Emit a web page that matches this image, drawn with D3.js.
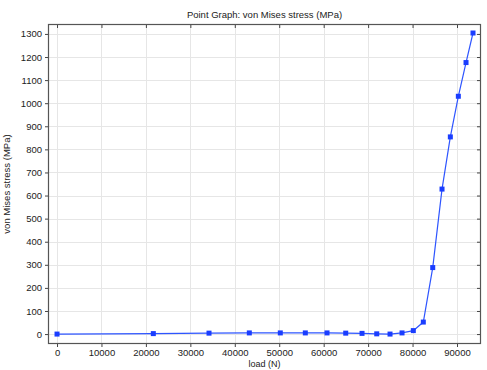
<!DOCTYPE html>
<html>
<head>
<meta charset="utf-8">
<script src="https://cdn.jsdelivr.net/npm/d3@7"></script>
<style>
  body { margin: 0; background: #fff; }
  svg { display: block; font-family: "Liberation Sans", Arial, sans-serif; }
</style>
</head>
<body>
<div id="chart"></div>
<script>
var loads = [0, 21670, 34200, 43270, 50240, 55870, 60750, 64960, 68630, 71940,
             74930, 77630, 80170, 82420, 84540, 86630, 88500, 90300, 92030, 93600];
var stress = [0, 2, 4, 5, 5, 5, 5, 4, 3, 1,
              0, 5, 15, 52, 288, 628, 854, 1030, 1176, 1304];
var xTicks = [0, 10000, 20000, 30000, 40000, 50000, 60000, 70000, 80000, 90000];
var yTicks = [0, 100, 200, 300, 400, 500, 600, 700, 800, 900, 1000, 1100, 1200, 1300];

var width = 487, height = 370;
var margin = {left: 48, right: 6, top: 24, bottom: 26};
var w = width - margin.left - margin.right,
    h = height - margin.top - margin.bottom;

var svg = d3.select('#chart').append('svg')
  .attr('width', width)
  .attr('height', height);

var x = d3.scaleLinear().domain([-2030, 95400]).range([0, w]);
var y = d3.scaleLinear().domain([-43, 1343]).range([h, 0]);

var g = svg.append('g')
  .attr('transform', 'translate(' + margin.left + ',' + margin.top + ')');

// grid
g.append('g').selectAll('line').data(xTicks).enter().append('line')
  .attr('x1', function(d) { return Math.round(x(d)) + 0.5; })
  .attr('x2', function(d) { return Math.round(x(d)) + 0.5; })
  .attr('y1', 0).attr('y2', h)
  .attr('stroke', '#e6e6e6');
g.append('g').selectAll('line').data(yTicks).enter().append('line')
  .attr('y1', function(d) { return Math.round(y(d)) + 0.5; })
  .attr('y2', function(d) { return Math.round(y(d)) + 0.5; })
  .attr('x1', 0).attr('x2', w)
  .attr('stroke', '#e6e6e6');

// axes
function style(sel, showText) {
  sel.select('.domain').remove();
  sel.selectAll('.tick line').attr('stroke', '#444');
  sel.selectAll('.tick text').attr('fill', '#222').style('font-size', '9.5px');
  if (!showText) sel.selectAll('.tick text').remove();
}
g.append('g').attr('transform', 'translate(0,' + h + ')')
  .call(d3.axisBottom(x).tickValues(xTicks).tickSize(3).tickPadding(2).tickFormat(d3.format('d')))
  .call(style, true);
g.append('g')
  .call(d3.axisTop(x).tickValues(xTicks).tickSize(-4))
  .call(style, false);
g.append('g')
  .call(d3.axisLeft(y).tickValues(yTicks).tickSize(3).tickPadding(3).tickFormat(d3.format('d')))
  .call(style, true);
g.append('g').attr('transform', 'translate(' + w + ',0)')
  .call(d3.axisRight(y).tickValues(yTicks).tickSize(-4))
  .call(style, false);

// frame
g.append('rect')
  .attr('x', 0.5).attr('y', 0.5)
  .attr('width', w - 1).attr('height', h - 1)
  .attr('fill', 'none')
  .attr('stroke', '#555')
  .attr('stroke-width', 1.2);

var pts = loads.map(function(d, i) { return [d, stress[i]]; });

var line = d3.line()
  .x(function(d) { return x(d[0]); })
  .y(function(d) { return y(d[1]); });

g.append('path')
  .datum(pts)
  .attr('d', line)
  .attr('fill', 'none')
  .attr('stroke', '#2e55ff')
  .attr('stroke-width', 1.2);

g.append('g').selectAll('rect').data(pts).enter().append('rect')
  .attr('x', function(d) { return x(d[0]) - 2.5; })
  .attr('y', function(d) { return y(d[1]) - 2.5; })
  .attr('width', 5).attr('height', 5)
  .attr('fill', '#1a3dff');

// labels
svg.append('text')
  .attr('x', margin.left + w / 2).attr('y', 18)
  .attr('text-anchor', 'middle')
  .style('font-size', '9.5px').attr('fill', '#222')
  .text('Point Graph: von Mises stress (MPa)');

svg.append('text')
  .attr('x', margin.left + w / 2).attr('y', 367)
  .attr('text-anchor', 'middle')
  .style('font-size', '9px').attr('fill', '#222')
  .text('load (N)');

svg.append('text')
  .attr('transform', 'translate(10,' + (margin.top + h / 2) + ') rotate(-90)')
  .attr('text-anchor', 'middle')
  .style('font-size', '9.5px').attr('fill', '#222')
  .text('von Mises stress (MPa)');
</script>
</body>
</html>
